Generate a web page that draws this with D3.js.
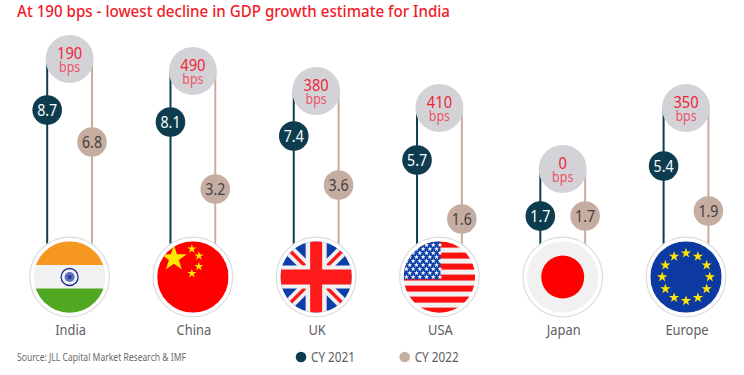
<!DOCTYPE html>
<html>
<head>
<meta charset="utf-8">
<script src="https://cdnjs.cloudflare.com/ajax/libs/d3/7.8.5/d3.min.js"></script>
<style>
  html, body { margin: 0; padding: 0; background: #fff; }
  text { font-family: "Noto Sans", sans-serif; }
</style>
</head>
<body>
<div id="wrapper"></div>
<script>
const countries = ["India", "China", "UK", "USA", "Japan", "Europe"]
const cy2021 = [8.7, 8.1, 7.4, 5.7, 1.7, 5.4]
const cy2022 = [6.8, 3.2, 3.6, 1.6, 1.7, 1.9]
const declineBps = [190, 490, 380, 410, 0, 350]
// height of the grey bubble (no ticks in the original)
const bubbleLevels = [9.1, 8.5, 7.5, 6.65, 3.6, 6.65]
const seriesNames = ["CY 2021", "CY 2022"]

const title = "At 190 bps - lowest decline in GDP growth estimate for India"
const source = "Source: JLL Capital Market Research & IMF"

const dark = "#0d3c4e"
const light = "#c5ada1"
const flagWhite = "#f1f1f1"

const dimensions = { width: 744, height: 375, flagY: 277, flagR: 35.7, ringR: 39.8, stem: 22.4 }

const wrapper = d3.select("#wrapper")
  .append("svg")
    .attr("width", dimensions.width)
    .attr("height", dimensions.height)
    .style("display", "block")

// scales
const xScale = d3.scalePoint()
  .domain(countries)
  .range([69.6, 686])

// the original's spacing isn't linear, so the scale follows the values as drawn
const yScale = d3.scaleLinear()
  .domain([1.6, 1.7, 1.9, 3.2, 3.6, 5.4, 5.7, 6.8, 7.4, 8.1, 8.7])
  .range([219, 216, 211, 189, 185, 166, 160, 142, 136, 122, 110])

const bubbleScale = d3.scaleLinear()
  .domain([0, 10])
  .range([241, 41])

const seriesColor = d3.scaleOrdinal().domain(seriesNames).range([dark, light])

const rows = countries.map((name, i) => ({
  name,
  a: cy2021[i],
  b: cy2022[i],
  bps: declineBps[i],
  level: bubbleLevels[i],
}))

// the original font is narrower than anything installed, so squeeze the glyphs
const place = (sel, x, y, k) => sel
    .attr("transform", d => `translate(${x},${typeof y == "function" ? y(d) : y}) scale(${k},1)`)

// title
wrapper.append("text")
    .attr("x", 17)
    .attr("y", 17)
    .attr("fill", "#ef1c2a")
    .attr("font-size", 16)
    .attr("font-weight", 500)
    .attr("textLength", 433)
    .attr("lengthAdjust", "spacingAndGlyphs")
    .text(title)

const groups = wrapper.selectAll(".country")
  .data(rows)
  .enter().append("g")
    .attr("class", "country")
    .attr("transform", d => `translate(${xScale(d.name)},0)`)

// stems
groups.append("line")
    .attr("x1", -dimensions.stem).attr("x2", -dimensions.stem)
    .attr("y1", d => bubbleScale(d.level))
    .attr("y2", dimensions.flagY - 30)
    .attr("stroke", dark)
    .attr("stroke-width", 2)

groups.append("line")
    .attr("x1", dimensions.stem).attr("x2", dimensions.stem)
    .attr("y1", d => bubbleScale(d.level))
    .attr("y2", dimensions.flagY - 30)
    .attr("stroke", light)
    .attr("stroke-width", 2)

// grey bubbles
groups.append("circle")
    .attr("cy", d => bubbleScale(d.level))
    .attr("r", 24)
    .attr("fill", "#d3d3d7")

const bpsLabels = groups.append("text")
    .call(place, 0, d => bubbleScale(d.level) - 0.5, 0.92)
    .attr("text-anchor", "middle")

bpsLabels.append("tspan")
    .attr("x", 0)
    .attr("font-size", 16)
    .attr("fill", "#ee2439")
    .text(d => d.bps)

bpsLabels.append("tspan")
    .attr("x", 0)
    .attr("dy", 13.5)
    .attr("font-size", 13.5)
    .attr("fill", "#ee5468")
    .text("bps")

// value bubbles
const drawValues = (key, dx, fill, textFill) => {
  groups.append("circle")
      .attr("cx", dx)
      .attr("cy", d => yScale(d[key]))
      .attr("r", 14.8)
      .attr("fill", fill)

  groups.append("text")
      .call(place, dx, d => yScale(d[key]) + 6, 0.86)
      .attr("text-anchor", "middle")
      .attr("font-size", 16.5)
      .attr("fill", textFill)
      .text(d => d[key].toFixed(1))
}
drawValues("a", -dimensions.stem, dark, "#fff")
drawValues("b", dimensions.stem, light, "#443f3f")

// flags
const star = (r) => d3.symbol().type(d3.symbolStar).size(r * r * 1.9)()
const R = dimensions.flagR

const flagGroups = groups.append("g")
    .attr("transform", `translate(0,${dimensions.flagY})`)

flagGroups.append("circle")
    .attr("r", dimensions.ringR)
    .attr("fill", "#fff")
    .attr("stroke", "#dcdcdc")
    .attr("stroke-width", 1.2)

const defs = wrapper.append("defs")
defs.append("clipPath").attr("id", "flag-clip")
  .append("circle").attr("r", R)

const flags = flagGroups.append("g")
    .attr("clip-path", "url(#flag-clip)")

const band = (g, y, h, fill, x = -R, w = 2 * R) => g.append("rect")
    .attr("x", x).attr("y", y).attr("width", w).attr("height", h).attr("fill", fill)

const drawFlag = {
  India(g) {
    band(g, -R, 2 * R, flagWhite)
    band(g, -R, R - 12, "#f6971f")
    band(g, 11.5, R, "#4fa81f")
    g.append("circle").attr("r", 8.5).attr("fill", flagWhite).attr("stroke", "#1c2f8f").attr("stroke-width", 1.3)
    g.append("circle").attr("r", 5).attr("fill", "#5f6fc0")
    g.append("circle").attr("r", 2.2).attr("fill", "#2b3fa5")
  },
  China(g) {
    band(g, -R, 2 * R, "#fe0000")
    g.append("path").attr("d", star(10.5)).attr("transform", "translate(-19,-18.5)").attr("fill", "#ffe600")
    const small = [[-1, -28], [6, -21], [6, -10.5], [-1, -3.5]]
    g.selectAll(".small").data(small).enter().append("path")
        .attr("class", "small")
        .attr("d", star(3.7))
        .attr("transform", d => `translate(${d[0]},${d[1]})`)
        .attr("fill", "#ffe600")
  },
  UK(g) {
    band(g, -R, 2 * R, "#0c3eaa")
    const diag = [[-R, -R, R, R], [-R, R, R, -R]]
    g.selectAll(".w").data(diag).enter().append("line")
        .attr("x1", d => d[0]).attr("y1", d => d[1]).attr("x2", d => d[2]).attr("y2", d => d[3])
        .attr("stroke", flagWhite).attr("stroke-width", 11)
    g.selectAll(".r").data(diag).enter().append("line")
        .attr("x1", d => d[0]).attr("y1", d => d[1]).attr("x2", d => d[2]).attr("y2", d => d[3])
        .attr("stroke", "#fe1a1a").attr("stroke-width", 3.5)
    band(g, -R, 2 * R, flagWhite, -10.5, 21)
    band(g, -11.5, 23, flagWhite)
    band(g, -R, 2 * R, "#fe1a1a", -6, 12)
    band(g, -7.5, 15, "#fe1a1a")
  },
  USA(g) {
    band(g, -R, 2 * R, flagWhite)
    d3.range(7).forEach(i => band(g, -35.4 + i * 11, 6, "#fe0f0f"))
    band(g, -R, 38, "#0c3eaa", -R, R + 1)
    const stars = d3.range(9).flatMap(row => d3.range(row % 2 ? 5 : 6)
      .map(col => [-33 + col * 6.7 + (row % 2 ? 3.3 : 0), -32 + row * 4]))
    g.selectAll(".s").data(stars).enter().append("path")
        .attr("class", "s")
        .attr("d", star(2.1))
        .attr("transform", d => `translate(${d[0]},${d[1]})`)
        .attr("fill", "#fff")
  },
  Japan(g) {
    band(g, -R, 2 * R, flagWhite)
    g.append("circle").attr("r", 21.5).attr("fill", "#fe0000")
  },
  Europe(g) {
    band(g, -R, 2 * R, "#0c3aa2")
    g.selectAll(".s").data(d3.range(12)).enter().append("path")
        .attr("class", "s")
        .attr("d", star(4.2))
        .attr("transform", d => {
          const a = d * Math.PI / 6
          return `translate(${23.8 * Math.sin(a)},${-23.8 * Math.cos(a)})`
        })
        .attr("fill", "#ffe600")
  },
}
flags.each(function(d) { drawFlag[d.name](d3.select(this)) })

// country labels
groups.append("text")
    .call(place, 1, 335, 0.92)
    .attr("text-anchor", "middle")
    .attr("font-size", 14)
    .attr("fill", "#5d5d66")
    .text(d => d.name)

// source and legend
wrapper.append("text")
    .attr("x", 17)
    .attr("y", 361)
    .attr("font-size", 10.5)
    .attr("fill", "#6a6a6a")
    .attr("textLength", 169)
    .attr("lengthAdjust", "spacingAndGlyphs")
    .text(source)

const legendX = d3.scalePoint().domain(seriesNames).range([301, 404.7])

const legend = wrapper.selectAll(".legend")
  .data(seriesNames)
  .enter().append("g")
    .attr("class", "legend")
    .attr("transform", d => `translate(${legendX(d)},357)`)

legend.append("circle")
    .attr("r", 5.3)
    .attr("fill", d => seriesColor(d))

legend.append("text")
    .attr("x", 10)
    .attr("y", 5)
    .attr("font-size", 13.5)
    .attr("fill", "#5d5d5d")
    .attr("textLength", 44)
    .attr("lengthAdjust", "spacingAndGlyphs")
    .text(d => d)
</script>
</body>
</html>
